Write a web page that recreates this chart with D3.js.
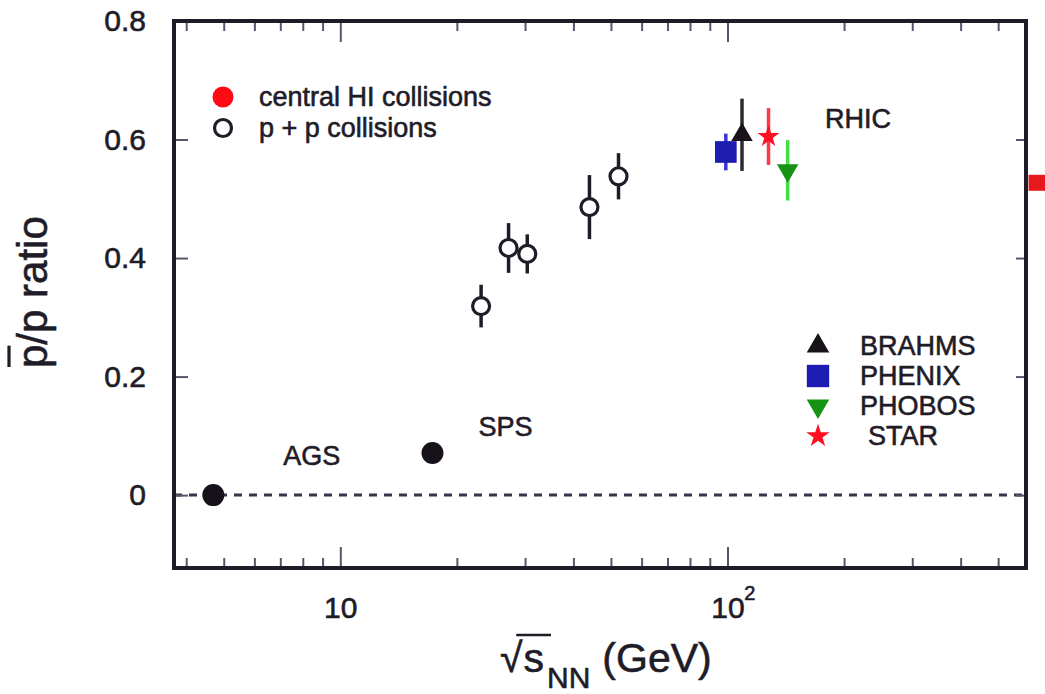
<!DOCTYPE html>
<html>
<head>
<meta charset="utf-8">
<script src="https://cdn.jsdelivr.net/npm/d3@7"></script>
<style>
  body { margin: 0; background: #fff; }
  svg { display: block; }
  text {
    font-family: "Liberation Sans", Arial, Helvetica, sans-serif;
    fill: #1f1c28;
    stroke: #1f1c28;
    stroke-width: 0.6px;
  }
</style>
</head>
<body>
<svg id="chart" width="1045" height="694"></svg>
<script>
// Antiproton-to-proton ratio versus collision energy per nucleon pair.

// p + p collisions (ISR energies)
const ppEnergy = [23.1, 27.2, 30.4, 44.0, 52.3];
const ppRatio  = [0.319, 0.417, 0.407, 0.486, 0.538];
const ppError  = [0.036, 0.042, 0.033, 0.054, 0.039];

// central heavy-ion collisions at fixed-target machines
const hiLabels = ["AGS", "SPS"];
const hiEnergy = [4.7, 17.3];
const hiRatio  = [0.0, 0.071];

// central heavy-ion collisions at RHIC
const rhicExperiments = ["BRAHMS", "PHENIX", "PHOBOS", "STAR"];
const rhicEnergy = [109, 99, 143, 127.6];
const rhicRatio  = [0.608, 0.579, 0.548, 0.605];
const rhicError  = [0.061, 0.031, 0.051, 0.048];

// marker sitting on the right border of the frame
const edgeEnergy = [632];
const edgeRatio  = [0.527];

// axes
const xMajorTicks = [10, 100];
const xMajorLabels = ["10", "10"];
const xMajorExponent = ["", "2"];
const xMinorTicks = [4, 5, 6, 7, 8, 9, 20, 30, 40, 50, 60, 70, 80, 90, 200, 300, 400, 500];
const yTicks = [0, 0.2, 0.4, 0.6, 0.8];
const yTickLabels = ["0", "0.2", "0.4", "0.6", "0.8"];
const legendLabels = ["central HI collisions", "p + p collisions"];
const regionLabel = "RHIC";

// ---------------------------------------------------------------------------
const ink = "#1f1c28";
const tickInk = "#57556c";
const fontStack = "'Liberation Sans', Arial, sans-serif";
const svg = d3.select("#chart");
svg.append("rect").attr("width", 1045).attr("height", 694).attr("fill", "#fff");

const plot = { left: 174, right: 1026, top: 21, bottom: 568 };
const x = d3.scaleLog().domain([3.72, 590]).range([plot.left, plot.right]);
const y = d3.scaleLinear().domain([-0.123, 0.8]).range([plot.bottom, plot.top]);

// dashed zero line
svg.append("line")
  .attr("x1", plot.left).attr("x2", plot.right)
  .attr("y1", y(0)).attr("y2", y(0))
  .attr("stroke", "#36344a").attr("stroke-width", 3)
  .attr("stroke-dasharray", "8,7");

function styleAxis(g) {
  g.select(".domain").remove();
  g.attr("color", ink);
  g.selectAll(".tick line").attr("stroke", tickInk).attr("stroke-width", 2);
  g.selectAll(".tick text")
    .attr("font-family", fontStack)
    .attr("font-size", 30).style("fill", ink);
}

// bottom axis: minor + major ticks, pointing inward
svg.append("g").attr("transform", `translate(0,${plot.bottom})`)
  .call(d3.axisBottom(x).tickValues(xMinorTicks).tickSizeInner(-10).tickSizeOuter(0).tickFormat(""))
  .call(styleAxis);
const gxMajor = svg.append("g").attr("transform", `translate(0,${plot.bottom})`)
  .call(d3.axisBottom(x).tickValues(xMajorTicks).tickSizeInner(-21).tickSizeOuter(0)
    .tickPadding(29).tickFormat((d, i) => xMajorLabels[i]))
  .call(styleAxis);
// exponent for the decade label
gxMajor.selectAll(".tick").each(function (d, i) {
  if (!xMajorExponent[i]) return;
  const t = d3.select(this).select("text");
  const w = t.node().getComputedTextLength();
  d3.select(this).append("text")
    .attr("x", w / 2 + 5).attr("y", 32)
    .attr("font-size", 20).style("fill", ink)
    .attr("font-family", fontStack)
    .text(xMajorExponent[i]);
});

// top axis (ticks only)
svg.append("g").attr("transform", `translate(0,${plot.top})`)
  .call(d3.axisTop(x).tickValues(xMinorTicks).tickSizeInner(-10).tickSizeOuter(0).tickFormat(""))
  .call(styleAxis);
svg.append("g").attr("transform", `translate(0,${plot.top})`)
  .call(d3.axisTop(x).tickValues(xMajorTicks).tickSizeInner(-21).tickSizeOuter(0).tickFormat(""))
  .call(styleAxis);

// left and right axes
svg.append("g").attr("transform", `translate(${plot.left},0)`)
  .call(d3.axisLeft(y).tickValues(yTicks).tickSizeInner(-14).tickSizeOuter(0)
    .tickPadding(28).tickFormat((d, i) => yTickLabels[i]))
  .call(styleAxis);
svg.append("g").attr("transform", `translate(${plot.right},0)`)
  .call(d3.axisRight(y).tickValues(yTicks).tickSizeInner(-10).tickSizeOuter(0).tickFormat(""))
  .call(styleAxis);

// frame
svg.append("rect")
  .attr("x", plot.left).attr("y", plot.top)
  .attr("width", plot.right - plot.left).attr("height", plot.bottom - plot.top)
  .attr("fill", "none").attr("stroke", ink).attr("stroke-width", 4);

// ---- p + p points with error bars
const pp = ppEnergy.map((e, i) => ({ e, r: ppRatio[i], err: ppError[i] }));
svg.append("g").selectAll("line").data(pp).join("line")
  .attr("x1", d => x(d.e)).attr("x2", d => x(d.e))
  .attr("y1", d => y(d.r - d.err)).attr("y2", d => y(d.r + d.err))
  .attr("stroke", ink).attr("stroke-width", 3.5);
svg.append("g").selectAll("circle").data(pp).join("circle")
  .attr("cx", d => x(d.e)).attr("cy", d => y(d.r)).attr("r", 8.5)
  .attr("fill", "#fff").attr("stroke", ink).attr("stroke-width", 3.2);

// ---- AGS / SPS points
const hi = hiEnergy.map((e, i) => ({ e, r: hiRatio[i], label: hiLabels[i] }));
svg.append("g").selectAll("circle").data(hi).join("circle")
  .attr("cx", d => x(d.e)).attr("cy", d => y(d.r)).attr("r", 11)
  .attr("fill", "#17121a");
const hiLabelOffset = { AGS: [70, -30], SPS: [46, -17] };
svg.append("g").selectAll("text").data(hi).join("text")
  .attr("x", d => x(d.e) + hiLabelOffset[d.label][0])
  .attr("y", d => y(d.r) + hiLabelOffset[d.label][1])
  .attr("font-size", 27)
  .text(d => d.label);

// ---- RHIC experiments
const expStyle = {
  BRAHMS: { symbol: d3.symbolTriangle, size: 200, rotate: 0, fill: "#191419", bar: "#2e2a33" },
  PHENIX: { symbol: d3.symbolSquare, size: 470, rotate: 0, fill: "#1c1cb0", bar: "#3636dc" },
  PHOBOS: { symbol: d3.symbolTriangle, size: 200, rotate: 180, fill: "#149314", bar: "#45dd45" },
  STAR:   { symbol: d3.symbolStar, size: 150, rotate: 0, fill: "#ff1020", bar: "#ff3848" }
};
const rhic = rhicExperiments.map((name, i) => ({
  name, e: rhicEnergy[i], r: rhicRatio[i], err: rhicError[i]
}));
const drawOrder = ["PHENIX", "BRAHMS", "STAR", "PHOBOS"];
const rhicSorted = drawOrder.map(n => rhic.find(d => d.name === n));
const rg = svg.append("g");
rhicSorted.forEach(d => {
  const s = expStyle[d.name];
  rg.append("line")
    .attr("x1", x(d.e)).attr("x2", x(d.e))
    .attr("y1", y(d.r - d.err)).attr("y2", y(d.r + d.err))
    .attr("stroke", s.bar).attr("stroke-width", 3.5);
  rg.append("path")
    .attr("d", d3.symbol(s.symbol, s.size)())
    .attr("transform", `translate(${x(d.e)},${y(d.r)}) rotate(${s.rotate})`)
    .attr("fill", s.fill);
});

svg.append("text")
  .attr("x", 825).attr("y", 128)
  .attr("font-size", 27)
  .text(regionLabel);

// experiment legend
const expLegend = svg.append("g").attr("transform", "translate(818,355)");
rhicExperiments.forEach((name, i) => {
  const s = expStyle[name];
  const row = expLegend.append("g").attr("transform", `translate(0,${i * 30})`);
  row.append("path")
    .attr("d", d3.symbol(s.symbol, name === "PHENIX" ? 500 : s.size + 20)())
    .attr("transform", `translate(0,-9) rotate(${s.rotate})`)
    .attr("fill", s.fill);
  row.append("text")
    .attr("x", name === "STAR" ? 50 : 42).attr("y", 0)
    .attr("font-size", 27)
    .text(name);
});

// collision-type legend
const collLegend = svg.append("g").attr("transform", "translate(223,106)");
collLegend.append("circle").attr("cx", 0).attr("cy", -9).attr("r", 10.5).attr("fill", "#ff0a14");
collLegend.append("circle").attr("cx", 0).attr("cy", 22).attr("r", 8.5)
  .attr("fill", "#fff").attr("stroke", ink).attr("stroke-width", 3.2);
legendLabels.forEach((t, i) => {
  collLegend.append("text").attr("x", 36).attr("y", i * 31).attr("font-size", 27).text(t);
});

// red marker on the right border
svg.append("g").selectAll("rect").data(edgeEnergy).join("rect")
  .attr("x", d => x(d) - 9).attr("y", (d, i) => y(edgeRatio[i]) - 8)
  .attr("width", 18).attr("height", 16)
  .attr("fill", "#e8191c");

// ---- axis titles
// x: sqrt(s_NN) (GeV)
(function () {
  const base = 672, x0 = 500, fs = 41;
  const g = svg.append("g");
  const rad = g.append("text").attr("x", x0).attr("y", base).attr("font-size", fs).text("\u221A");
  const wRad = rad.node().getComputedTextLength();
  const sT = g.append("text").attr("x", x0 + wRad + 1).attr("y", base).attr("font-size", fs).text("s");
  const wS = sT.node().getComputedTextLength();
  g.append("line")
    .attr("x1", x0 + wRad * 0.72).attr("x2", x0 + wRad + wS + 8)
    .attr("y1", base - 37).attr("y2", base - 37)
    .attr("stroke", ink).attr("stroke-width", 2.6);
  const nn = g.append("text").attr("x", x0 + wRad + wS + 4).attr("y", base + 16)
    .attr("font-size", 30).text("NN");
  const wN = nn.node().getComputedTextLength();
  g.append("text").attr("x", x0 + wRad + wS + 4 + wN + 12).attr("y", base)
    .attr("font-size", fs).text("(GeV)");
})();

// y: pbar/p ratio
(function () {
  const fs = 42;
  const g = svg.append("g").attr("transform", "translate(47,368) rotate(-90)");
  const t = g.append("text").attr("x", 0).attr("y", 0).attr("font-size", fs).text("p/p ratio");
  const wP = t.node().getSubStringLength(0, 1);
  g.append("line")
    .attr("x1", 1).attr("x2", wP - 1)
    .attr("y1", -38).attr("y2", -38)
    .attr("stroke", ink).attr("stroke-width", 3.2);
})();
</script>
</body>
</html>
